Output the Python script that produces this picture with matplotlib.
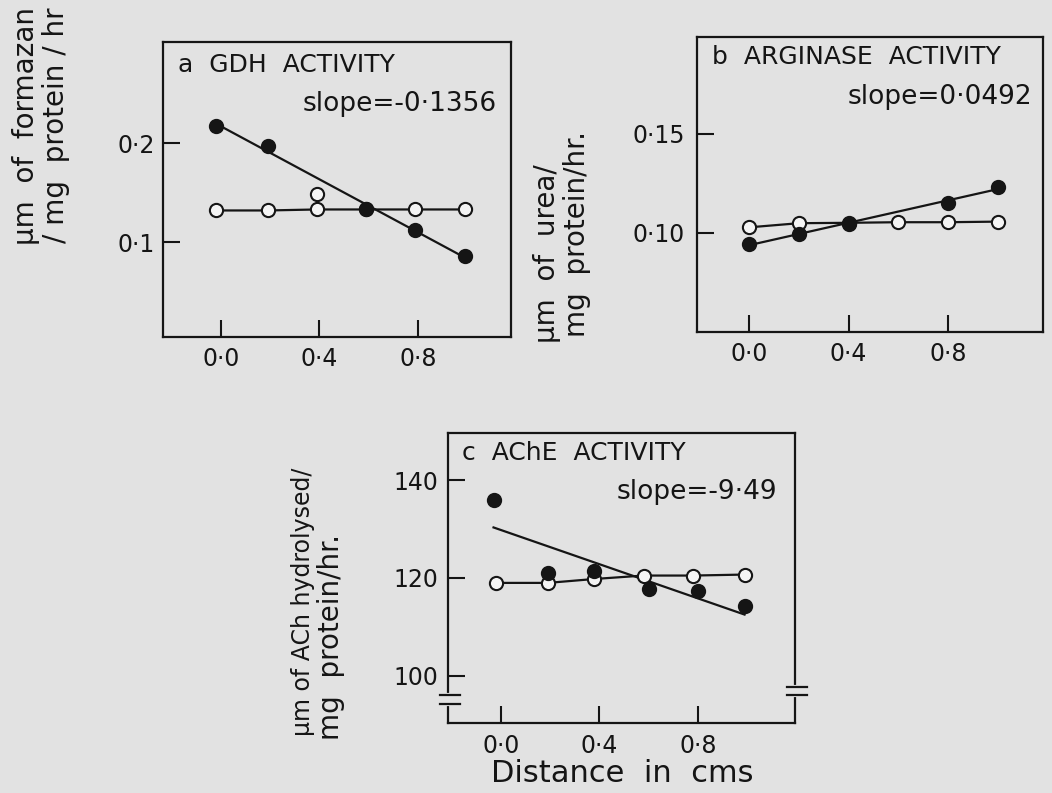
import numpy as np
import matplotlib
matplotlib.use("Agg")
import matplotlib.pyplot as plt

plt.rcParams['font.family'] = ['DejaVu Sans']

# ---------------- data ----------------
# Panel a: GDH activity
a_ctrl_x = [-0.02, 0.19, 0.39, 0.59, 0.79, 0.99]
a_ctrl_y = [0.132, 0.132, 0.133, 0.133, 0.133, 0.133]
a_ctrl_extra_x = [0.39]
a_ctrl_extra_y = [0.149]
a_trt_x = [-0.02, 0.19, 0.59, 0.79, 0.99]
a_trt_y = [0.217, 0.197, 0.133, 0.112, 0.086]
a_xticks = [0.0, 0.4, 0.8]
a_xticklabels = ["0·0", "0·4", "0·8"]
a_yticks = [0.1, 0.2]
a_yticklabels = ["0·1", "0·2"]

# Panel b: Arginase activity
b_ctrl_x = [0.0, 0.2, 0.4, 0.6, 0.8, 1.0]
b_ctrl_y = [0.1027, 0.1048, 0.1050, 0.1053, 0.1053, 0.1056]
b_trt_x = [0.0, 0.2, 0.4, 0.8, 1.0]
b_trt_y = [0.0943, 0.0993, 0.1044, 0.1152, 0.1233]
b_xticks = [0.0, 0.4, 0.8]
b_xticklabels = ["0·0", "0·4", "0·8"]
b_yticks = [0.10, 0.15]
b_yticklabels = ["0·10", "0·15"]

# Panel c: AChE activity
c_ctrl_x = [-0.02, 0.19, 0.38, 0.58, 0.78, 0.99]
c_ctrl_y = [119.0, 119.0, 119.8, 120.5, 120.5, 120.7]
c_trt_x = [-0.03, 0.19, 0.38, 0.60, 0.80, 0.99]
c_trt_y = [136.0, 121.0, 121.4, 117.8, 117.3, 114.2]
c_xticks = [0.0, 0.4, 0.8]
c_xticklabels = ["0·0", "0·4", "0·8"]
c_yticks = [100, 120, 140]
c_yticklabels = ["100", "120", "140"]

# ---------------- figure ----------------
W, H = 1052, 793
BG = '#e2e2e2'
INK = '#151515'
OPEN = '#f4f4f4'
fig = plt.figure(figsize=(W / 100, H / 100), dpi=100, facecolor=BG)


def axes_px(left, top, right, bottom):
    return fig.add_axes([left / W, 1 - bottom / H, (right - left) / W, (bottom - top) / H])


def px(x, y):
    return x / W, 1 - y / H


def style(ax, xlim, ylim, xt, xtl, yt, ytl, xpad, ypad):
    ax.set_facecolor(BG)
    ax.set_xlim(*xlim)
    ax.set_ylim(*ylim)
    ax.set_xticks(xt)
    ax.set_xticklabels(xtl)
    ax.set_yticks(yt)
    ax.set_yticklabels(ytl)
    ax.tick_params(direction='in', length=12, width=1.5, colors=INK,
                   labelsize=17, top=False, right=False)
    ax.tick_params(axis='x', pad=xpad)
    ax.tick_params(axis='y', pad=ypad)
    for s in ax.spines.values():
        s.set_linewidth(1.6)
        s.set_color(INK)


def draw(ax, cx, cy, tx, ty):
    # treated: regression line + filled points
    k, b0 = np.polyfit(tx, ty, 1)
    xs = np.array([min(tx), max(tx)])
    ax.plot(xs, k * xs + b0, color=INK, lw=1.6, zorder=2)
    # control: connected open points
    ax.plot(cx, cy, color=INK, lw=1.6, zorder=2)
    ax.plot(cx, cy, 'o', ms=9.5, mfc=OPEN, mec=INK, mew=1.5, zorder=3)
    ax.plot(tx, ty, 'o', ms=9.5, mfc=INK, mec=INK, mew=1.5, zorder=4)


TSIZE = 18
SSIZE = 19

# Panel a
ax_a = axes_px(163, 42, 511, 337)
style(ax_a, (-0.236, 1.179), (0.0043, 0.302), a_xticks, a_xticklabels,
      a_yticks, a_yticklabels, 7, 6)
draw(ax_a, a_ctrl_x, a_ctrl_y, a_trt_x, a_trt_y)
ax_a.plot(a_ctrl_extra_x, a_ctrl_extra_y, 'o', ms=9.5, mfc=OPEN, mec=INK, mew=1.5, zorder=3)
fig.text(*px(178, 65), "a  GDH  ACTIVITY", fontsize=TSIZE, color=INK, va='center', ha='left')
fig.text(*px(497, 104), "slope=-0·1356", fontsize=SSIZE, color=INK, va='center', ha='right')
fig.text(*px(26, 7), "µm  of  formazan", fontsize=20, rotation=90, color=INK,
         va='top', ha='center')
fig.text(*px(56, 7), "/ mg  protein / hr", fontsize=20, rotation=90, color=INK,
         va='top', ha='center')

# Panel b
ax_b = axes_px(697, 37, 1043, 332)
style(ax_b, (-0.209, 1.181), (0.0497, 0.1991), b_xticks, b_xticklabels,
      b_yticks, b_yticklabels, 7, 9)
draw(ax_b, b_ctrl_x, b_ctrl_y, b_trt_x, b_trt_y)
fig.text(*px(712, 57), "b  ARGINASE  ACTIVITY", fontsize=TSIZE, color=INK, va='center', ha='left')
fig.text(*px(1032, 97), "slope=0·0492", fontsize=SSIZE, color=INK, va='center', ha='right')
fig.text(*px(547, 343), "µm  of  urea/", fontsize=20, rotation=90, color=INK,
         va='bottom', ha='center')
fig.text(*px(577, 337), "mg  protein/hr.", fontsize=20, rotation=90, color=INK,
         va='bottom', ha='center')

# Panel c
ax_c = axes_px(448, 433, 795, 723)
style(ax_c, (-0.215, 1.195), (90.4, 149.6), c_xticks, c_xticklabels,
      c_yticks, c_yticklabels, 8, 7)
draw(ax_c, c_ctrl_x, c_ctrl_y, c_trt_x, c_trt_y)
fig.text(*px(462, 453), "c  AChE  ACTIVITY", fontsize=TSIZE, color=INK, va='center', ha='left')
fig.text(*px(777, 492), "slope=-9·49", fontsize=SSIZE, color=INK, va='center', ha='right')
fig.text(*px(303, 736), "µm of ACh hydrolysed/", fontsize=17, rotation=90, color=INK,
         va='bottom', ha='center')
fig.text(*px(331, 740), "mg  protein/hr.", fontsize=20, rotation=90, color=INK,
         va='bottom', ha='center')
fig.text(*px(622, 773), "Distance  in  cms", fontsize=22, color=INK, va='center', ha='center')

# axis-break marks on panel c
for (xa, ya_list) in [(0.0, (0.095, 0.066)), (1.0, (0.125, 0.096))]:
    ax_c.plot([xa, xa], list(ya_list), transform=ax_c.transAxes, color=BG, lw=3,
              clip_on=False, zorder=5)
    for ya in ya_list:
        ax_c.plot([xa - 0.022, xa + 0.035], [ya, ya], transform=ax_c.transAxes,
                  color=INK, lw=1.6, clip_on=False, zorder=6)

fig.savefig("out.png", dpi=100, facecolor=BG)
